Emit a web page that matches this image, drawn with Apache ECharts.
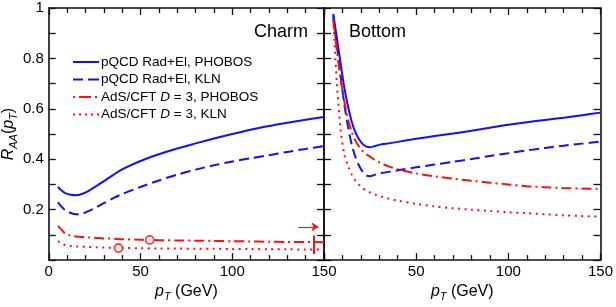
<!DOCTYPE html>
<html>
<head>
<meta charset="utf-8">
<script src="https://cdn.jsdelivr.net/npm/echarts@6/dist/echarts.min.js"></script>
<style>
html,body{margin:0;padding:0;background:#fff;}
#c{width:616px;height:307px;}
</style>
</head>
<body>
<div id="c"></div>
<script>
// ---------- data ----------
const seriesNames = ['pQCD Rad+El, PHOBOS', 'pQCD Rad+El, KLN', 'AdS/CFT D = 3, PHOBOS', 'AdS/CFT D = 3, KLN'];
const xTicks = [0, 50, 100, 150];

// Charm panel
const charmPt = [5,7,9,12,15,18,22,26,30,35,40,50,60,70,80,90,100,110,120,130,140,150];
const charmPqcdPhobos = [0.29,0.276,0.266,0.259,0.257,0.262,0.276,0.294,0.313,0.337,0.36,0.393,0.42,0.443,0.463,0.482,0.5,0.517,0.532,0.545,0.557,0.568];
const charmPqcdKln = [0.229,0.212,0.198,0.187,0.182,0.184,0.195,0.21,0.226,0.245,0.262,0.29,0.316,0.339,0.359,0.376,0.391,0.404,0.416,0.429,0.441,0.452];
const charmAdsPhobos = [0.136,0.12,0.106,0.097,0.094,0.092,0.09,0.088,0.086,0.085,0.083,0.081,0.079,0.078,0.077,0.076,0.075,0.074,0.073,0.072,0.072,0.071];
const charmAdsKln = [0.076,0.066,0.06,0.056,0.054,0.053,0.052,0.051,0.05,0.049,0.048,0.047,0.046,0.046,0.045,0.045,0.044,0.044,0.043,0.043,0.042,0.042];
const charmCirclesX = [55, 38];
const charmCirclesY = [0.08, 0.048];
const charmArrow = [[136, 0.132], [147, 0.132]];
const charmBar = [[144.5, 0.098], [144.5, 0.024]];

// Bottom panel
const bottomPt = [5,7,9,11,13,15,17,19,21,23,25,27,30,35,40,50,60,70,80,90,100,110,120,130,140,150];
const bottomPqcdPhobos = [0.977,0.88,0.78,0.685,0.61,0.55,0.508,0.479,0.46,0.45,0.448,0.451,0.457,0.463,0.469,0.481,0.492,0.502,0.513,0.525,0.537,0.547,0.556,0.565,0.575,0.585];
const bottomPqcdKln = [0.97,0.85,0.73,0.62,0.53,0.46,0.41,0.375,0.35,0.336,0.333,0.337,0.343,0.35,0.356,0.368,0.379,0.39,0.401,0.413,0.424,0.435,0.445,0.454,0.462,0.47];
const bottomAdsPhobos = [0.95,0.83,0.72,0.63,0.56,0.51,0.475,0.45,0.432,0.42,0.41,0.4,0.388,0.372,0.36,0.344,0.332,0.323,0.315,0.307,0.3,0.293,0.289,0.286,0.284,0.282];
const bottomAdsKln = [0.955,0.7,0.52,0.42,0.375,0.34,0.315,0.298,0.285,0.275,0.268,0.262,0.254,0.244,0.236,0.223,0.213,0.206,0.2,0.195,0.19,0.186,0.182,0.178,0.175,0.172];

// ---------- helpers ----------
const zip = (xs, ys) => xs.map((x, i) => [x, ys[i]]);
const FONT = 'Liberation Sans, Arial, Helvetica, sans-serif';
const BLUE = '#1010ff';
const RED = '#ff1010';
const styles = [
  {color: BLUE, type: 'solid', icon: 'path://M0,0h26v2h-26z'},
  {color: BLUE, type: [10, 5], icon: 'path://M0,0h10v2h-10zM15,0h11v2h-11z'},
  {color: RED, type: [10, 4, 2, 4], icon: 'path://M0,0h2v2h-2zM6,0h12v2h-12zM22,0h2v2h-2zM24,0h2v0.01h-2z'},
  {color: RED, type: [2, 4.5], icon: 'path://M0,0h2v2h-2zM6,0h2v2h-2zM12,0h2v2h-2zM18,0h2v2h-2zM24,0h2v2h-2z'}
];

function xAxisPair(gridIndex, hideZero) {
  const common = {
    type: 'value', gridIndex, min: 0, max: 150, interval: 50,
    splitLine: {show: false},
    axisLine: {show: true, onZero: false, lineStyle: {color: '#111', width: 1.6}},
    axisTick: {show: true, inside: true, length: 7, lineStyle: {color: '#111', width: 1.3}},
    minorTick: {show: true, splitNumber: 5, length: 5, lineStyle: {color: '#111', width: 1.3}}
  };
  return [
    Object.assign({}, common, {
      position: 'bottom',
      axisLabel: {
        show: true, margin: 4, color: '#000', fontSize: 15, fontFamily: FONT,
        formatter: v => (hideZero && v === 0) ? '' : String(v)
      },
      name: '{i|p}{s|T}{n| (GeV)}',
      nameLocation: 'middle', nameGap: 19,
      nameTextStyle: {
        color: '#000', fontFamily: FONT,
        rich: {
          i: {fontSize: 16, fontStyle: 'italic', fontFamily: FONT, lineHeight: 20, color: '#000'},
          s: {fontSize: 11, fontStyle: 'italic', fontFamily: FONT, lineHeight: 9, verticalAlign: 'bottom', color: '#000'},
          n: {fontSize: 16, fontFamily: FONT, lineHeight: 20, color: '#000'}
        }
      }
    }),
    Object.assign({}, common, {position: 'top', axisLabel: {show: false}})
  ];
}

function yAxisPair(gridIndex, showLabels) {
  const common = {
    type: 'value', gridIndex, min: 0, max: 1, interval: 0.2,
    splitLine: {show: false},
    axisLine: {show: true, onZero: false, lineStyle: {color: '#111', width: 1.6}},
    axisTick: {show: true, inside: true, length: 7, lineStyle: {color: '#111', width: 1.3}},
    minorTick: {show: true, splitNumber: 2, length: 7, lineStyle: {color: '#111', width: 1.3}}
  };
  const left = Object.assign({}, common, {
    position: 'left',
    axisLabel: {
      show: showLabels, margin: 5, color: '#000', fontSize: 15, fontFamily: FONT,
      formatter: v => v === 0 ? '' : (v === 1 ? '1' : v.toFixed(1))
    }
  });
  if (showLabels) {
    Object.assign(left, {
      name: '{i|R}{s|AA}{n|(}{i|p}{s|T}{n|)}',
      nameLocation: 'middle', nameGap: 26, nameRotate: 90,
      nameTextStyle: {
        color: '#000', fontFamily: FONT,
        rich: {
          i: {fontSize: 16, fontStyle: 'italic', fontFamily: FONT, lineHeight: 20, color: '#000'},
          s: {fontSize: 11, fontStyle: 'italic', fontFamily: FONT, lineHeight: 9, verticalAlign: 'bottom', color: '#000'},
          n: {fontSize: 16, fontFamily: FONT, lineHeight: 20, color: '#000'}
        }
      }
    });
  }
  return [left, Object.assign({}, common, {position: 'right', axisLabel: {show: false}})];
}

function lineSeries(name, pts, st, xi, yi) {
  return {
    name, type: 'line', xAxisIndex: xi, yAxisIndex: yi,
    data: pts, showSymbol: false, symbol: 'none',
    smooth: 0.3,
    lineStyle: {color: st.color, type: st.type, width: 2},
    itemStyle: {color: st.color},
    silent: true, z: 3
  };
}

const charmSets = [charmPqcdPhobos, charmPqcdKln, charmAdsPhobos, charmAdsKln];
const bottomSets = [bottomPqcdPhobos, bottomPqcdKln, bottomAdsPhobos, bottomAdsKln];

const series = [];
charmSets.forEach((ys, i) => series.push(lineSeries(seriesNames[i], zip(charmPt, ys), styles[i], 0, 0)));
bottomSets.forEach((ys, i) => series.push(lineSeries(seriesNames[i], zip(bottomPt, ys), styles[i], 2, 2)));

series.push({
  name: 'markers', type: 'scatter', xAxisIndex: 0, yAxisIndex: 0,
  data: zip(charmCirclesX, charmCirclesY),
  symbol: 'circle', symbolSize: 8,
  itemStyle: {color: '#fff', borderColor: RED, borderWidth: 1.8},
  z: 5, silent: true,
  markLine: {
    silent: true, animation: false,
    label: {show: false},
    lineStyle: {color: RED, type: 'solid', width: 1.2},
    data: [
      [{coord: charmArrow[0], symbol: 'none'}, {coord: charmArrow[1], symbol: 'arrow', symbolSize: 7}],
      [{coord: charmBar[0], symbol: 'none', lineStyle: {width: 2}}, {coord: charmBar[1], symbol: 'none'}]
    ]
  }
});

const legendRich = {
  n: {fontSize: 13.5, fontFamily: FONT, color: '#000', lineHeight: 16},
  i: {fontSize: 13.5, fontFamily: FONT, fontStyle: 'italic', color: '#000', lineHeight: 16}
};

const option = {
  animation: false,
  backgroundColor: '#fff',
  textStyle: {fontFamily: FONT},
  title: [
    {text: 'Charm', left: 254, top: 23, padding: 0, textStyle: {fontSize: 18, fontWeight: 'normal', color: '#000', fontFamily: FONT}},
    {text: 'Bottom', left: 349, top: 23, padding: 0, textStyle: {fontSize: 18, fontWeight: 'normal', color: '#000', fontFamily: FONT}}
  ],
  legend: {
    data: seriesNames.map((n, i) => ({
      name: n, icon: styles[i].icon,
      itemStyle: {color: styles[i].color}
    })),
    orient: 'vertical', left: 73, top: 55,
    itemWidth: 26, itemHeight: 2, itemGap: 3.5,
    symbolKeepAspect: false,
    padding: 0,
    selectedMode: false,
    formatter: name => {
      if (name.indexOf('AdS/CFT D = 3') === 0) {
        return '{n|AdS/CFT }{i|D}{n|' + name.slice('AdS/CFT D'.length) + '}';
      }
      return '{n|' + name + '}';
    },
    textStyle: {fontSize: 13.5, fontFamily: FONT, color: '#000', rich: legendRich, padding: [0, 0, 0, -3]}
  },
  grid: [
    {left: 47, right: 292, top: 8, bottom: 37},
    {left: 324, right: 15, top: 8, bottom: 37}
  ],
  xAxis: [...xAxisPair(0, false), ...xAxisPair(1, true)],
  yAxis: [...yAxisPair(0, true), ...yAxisPair(1, false)],
  series
};

const chart = echarts.init(document.getElementById('c'), null, {renderer: 'canvas'});
chart.setOption(option);
</script>
</body>
</html>
